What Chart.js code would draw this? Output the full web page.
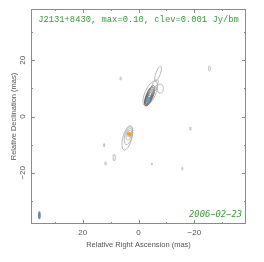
<!DOCTYPE html>
<html>
<head>
<meta charset="utf-8">
<script src="https://cdn.jsdelivr.net/npm/chart.js@4.4.0/dist/chart.umd.min.js"></script>
<style>
  html, body { margin: 0; padding: 0; background: #fff; }
  #caixa { width: 264px; height: 262px; }
</style>
</head>
<body>
<div id="caixa"><canvas id="mapa"></canvas></div>
<script>
/* =========================================================
   Mapa VLBI (contornos) — J2131+8430, 2006-02-23
   Contornos desenhados como elipses pelas escalas do Chart.js
   ========================================================= */

// Limites dos eixos (mas)
const LIM_X = [-38.5, 38.5];
const LIM_Y = [-38.2, 38.2];

// Marcas dos eixos e rótulos
const TICKS = [-30, -20, -10, 0, 10, 20, 30];
const ROTULOS = [-20, 0, 20];

// Componentes do modelo (mas)
const COMP_X = [-3.5, 3.3];
const COMP_Y = [5.9, -6.2];

// Contornos: centro, semi-eixos (mas), ângulo (graus) e nível (0 claro, 1 escuro)
const CONT_X  = [-4.2, -4.0, -3.9, -3.8, -3.7, -3.7, -3.6, -3.6, -7.0, -7.8, -6.0, -5.6,
                 4.0, 3.6, 3.4, 3.3, 6.4, -25.4, 12.3, 8.7, 11.8, -4.8, -15.7, -18.6];
const CONT_Y  = [8.2, 7.4, 7.2, 7.0, 6.8, 6.6, 6.4, 6.2, 15.2, 9.9, 11.7, 9.6,
                 -7.6, -6.8, -6.3, -6.1, 13.5, 17.1, -10.2, -14.6, -16.7, -16.9, -18.5, -4.3];
const CONT_A  = [4.8, 3.9, 3.5, 3.0, 2.5, 2.0, 1.4, 0.8, 2.8, 1.6, 1.5, 1.2,
                 4.5, 3.3, 2.1, 1.2, 0.6, 0.8, 0.6, 1.2, 0.5, 0.3, 0.5, 0.6];
const CONT_B  = [1.9, 1.25, 1.1, 0.95, 0.8, 0.65, 0.5, 0.3, 0.8, 1.1, 0.8, 0.6,
                 1.6, 1.3, 0.95, 0.7, 0.2, 0.4, 0.2, 0.4, 0.3, 0.2, 0.2, 0.2];
const CONT_PA = [24, 22, 22, 22, 22, 22, 22, 22, 20, 0, 30, 35,
                 15, 15, 15, 15, 0, 0, 0, 0, 0, 0, 0, 0];
const CONT_NIVEL = [0, 1, 1, 1, 1, 1, 1, 1, 0, 0, 0, 0,
                    0, 0, 0, 0, 0, 0, 0, 0, 0, 0, 0, 0];

// Feixe (beam) no canto inferior esquerdo
const FEIXE_X = 35.5, FEIXE_Y = -35.1, FEIXE_A = 1.4, FEIXE_B = 0.5;

const COR_EIXO = "#8a8a8a";
const COR_TEXTO = "#555";
const COR_VERDE = "#3a9a3a";
const CORES_NIVEL = ["#aaaaaa", "#666666"];
const FONTE = "'Liberation Sans', Arial, sans-serif";

function rotulo(v) {
  return ROTULOS.includes(v) ? String(v).replace("-", "\u2212") : "";
}

/** Desenha uma elipse em coordenadas de dados */
function elipse(ctx, sx, sy, cx, cy, a, b, pa) {
  const px = sx.getPixelForValue(cx), py = sy.getPixelForValue(cy);
  const rx = Math.abs(sx.getPixelForValue(cx + b) - px);
  const ry = Math.abs(sy.getPixelForValue(cy + a) - py);
  ctx.beginPath();
  ctx.ellipse(px, py, rx, ry, pa * Math.PI / 180, 0, 2 * Math.PI);
}

// Contornos + moldura com marcas para dentro
const pluginMapa = {
  id: "mapa",
  beforeDatasetsDraw(chart) {
    const { ctx, chartArea: area, scales: { x, y } } = chart;
    ctx.save();
    ctx.beginPath();
    ctx.rect(area.left, area.top, area.right - area.left, area.bottom - area.top);
    ctx.clip();

    ctx.lineWidth = 0.8;
    CONT_X.forEach((cx, i) => {
      elipse(ctx, x, y, cx, CONT_Y[i], CONT_A[i], CONT_B[i], CONT_PA[i]);
      ctx.strokeStyle = CORES_NIVEL[CONT_NIVEL[i]];
      ctx.stroke();
    });

    elipse(ctx, x, y, FEIXE_X, FEIXE_Y, FEIXE_A, FEIXE_B, 0);
    ctx.fillStyle = "#6f86a0";
    ctx.fill();
    ctx.restore();

    // moldura
    ctx.save();
    ctx.strokeStyle = COR_EIXO;
    ctx.lineWidth = 1;
    ctx.strokeRect(area.left + 0.5, area.top + 0.5, area.right - area.left - 1, area.bottom - area.top - 1);
    ctx.beginPath();
    TICKS.forEach((v) => {
      const t = ROTULOS.includes(v) ? 4 : 2;
      const px = Math.round(x.getPixelForValue(v)) + 0.5;
      ctx.moveTo(px, area.bottom); ctx.lineTo(px, area.bottom - t);
      ctx.moveTo(px, area.top); ctx.lineTo(px, area.top + t);
      const py = Math.round(y.getPixelForValue(v)) + 0.5;
      ctx.moveTo(area.left, py); ctx.lineTo(area.left + t, py);
      ctx.moveTo(area.right, py); ctx.lineTo(area.right - t, py);
    });
    ctx.stroke();

    // rótulos do eixo y (girados)
    ctx.fillStyle = COR_TEXTO;
    ctx.font = "8px " + FONTE;
    ctx.textAlign = "center";
    ctx.textBaseline = "middle";
    ROTULOS.forEach((v) => {
      ctx.save();
      ctx.translate(area.left - 8, y.getPixelForValue(v));
      ctx.rotate(-Math.PI / 2);
      ctx.fillText(rotulo(v), 0, 0);
      ctx.restore();
    });
    ctx.restore();
  },
  afterDraw(chart) {
    const { ctx, chartArea: area } = chart;
    ctx.save();
    ctx.fillStyle = COR_VERDE;
    ctx.textBaseline = "middle";
    ctx.font = "8.8px 'Liberation Mono', monospace";
    ctx.textAlign = "center";
    ctx.fillText("J2131+8430, max=0.10, clev=0.001 Jy/bm", (area.left + area.right) / 2, area.top + 11);
    ctx.font = "italic 8.8px 'DejaVu Sans Mono', monospace";
    ctx.textAlign = "right";
    ctx.fillText("2006\u221202\u221223", area.right - 4, area.bottom - 9);
    ctx.restore();
  },
};

new Chart(document.getElementById("mapa"), {
  type: "scatter",
  data: {
    datasets: [{
      data: COMP_X.map((v, i) => ({ x: v, y: COMP_Y[i] })),
      backgroundColor: ["#5aa0dc", "#f0a020"],
      borderWidth: 0,
      pointRadius: 2,
    }],
  },
  options: {
    animation: false,
    responsive: true,
    maintainAspectRatio: false,
    layout: { padding: { top: 9, right: 18, left: 0, bottom: 0 } },
    plugins: { legend: { display: false }, tooltip: { enabled: false } },
    scales: {
      x: {
        type: "linear",
        reverse: true,
        min: LIM_X[0],
        max: LIM_X[1],
        afterBuildTicks: (s) => { s.ticks = TICKS.map((v) => ({ value: v })); },
        afterFit: (s) => { s.height = 38; },
        grid: { display: false, drawTicks: false },
        border: { display: false },
        ticks: { callback: rotulo, color: COR_TEXTO, font: { family: FONTE, size: 8 }, padding: 4, maxRotation: 0 },
        title: {
          display: true,
          text: "Relative Right Ascension (mas)",
          color: COR_TEXTO,
          font: { family: FONTE, size: 7.5 },
          padding: { top: 0, bottom: 12.5 },
        },
      },
      y: {
        type: "linear",
        min: LIM_Y[0],
        max: LIM_Y[1],
        afterBuildTicks: (s) => { s.ticks = TICKS.map((v) => ({ value: v })); },
        afterFit: (s) => { s.width = 31; },
        grid: { display: false, drawTicks: false },
        border: { display: false },
        ticks: { display: false },
        title: {
          display: true,
          text: "Relative Declination (mas)",
          color: COR_TEXTO,
          font: { family: FONTE, size: 7.5 },
          padding: { top: 9.5, bottom: 0 },
        },
      },
    },
  },
  plugins: [pluginMapa],
});
</script>
</body>
</html>
